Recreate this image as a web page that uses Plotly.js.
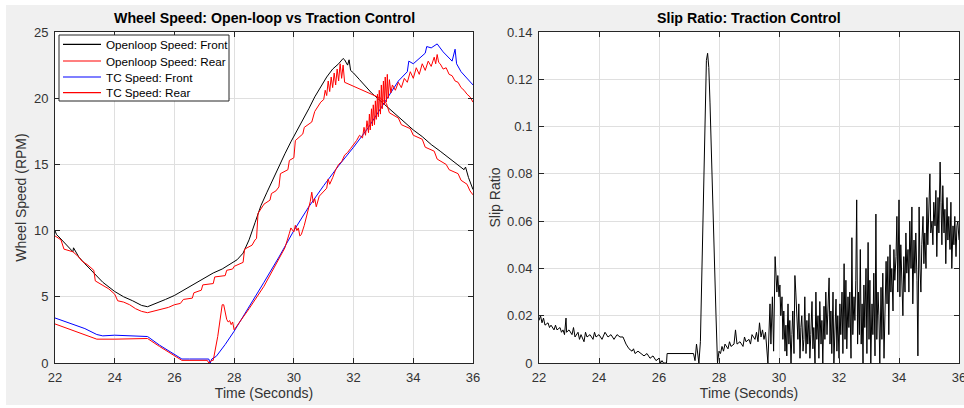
<!DOCTYPE html>
<html>
<head>
<meta charset="utf-8">
<script src="https://cdn.plot.ly/plotly-3.0.1.min.js"></script>
<style>
html,body{margin:0;padding:0;background:#ffffff;}
#bg{position:absolute;left:6px;top:5px;width:958px;height:400px;background:#f0f0f0;}
#chart{position:absolute;left:0;top:0;width:964px;height:408px;}
</style>
</head>
<body>
<div id="bg"></div>
<div id="chart"></div>
<script>
// ---- Open-loop front wheel speed (RPM) ----
var olFrontT = [22.0,22.05,22.1,22.3,22.5,22.6,22.62,22.8,23.0,23.3,
  23.6,24.0,24.3,24.6,24.9,25.1,25.4,25.7,26.0,26.3,
  26.6,27.0,27.3,27.6,27.9,28.1,28.3,28.5,28.7,28.9,
  29.1,29.3,29.5,29.7,29.9,30.1,30.3,30.5,30.7,30.9,
  31.1,31.3,31.5,31.65,31.7,31.8,31.85,31.9,32.0,32.2,
  32.4,32.6,32.8,33.0,33.2,33.4,33.6,33.8,34.0,34.3,
  34.6,34.9,35.2,35.5,35.7,35.75,35.8,35.85,36.0];
var olFrontV = [10.0,9.7,9.6,9.1,8.6,8.4,8.7,8.0,7.5,6.8,
  6.1,5.4,5.0,4.7,4.35,4.25,4.5,4.8,5.1,5.5,
  5.9,6.4,6.8,7.1,7.5,7.8,8.3,9.3,10.6,11.9,
  12.9,13.9,14.9,15.8,16.7,17.5,18.3,19.2,20.1,20.9,
  21.6,22.2,22.6,23.0,22.9,22.5,22.9,22.1,21.9,21.4,
  20.9,20.4,20.0,19.6,19.2,18.8,18.4,18.0,17.6,17.1,
  16.5,16.0,15.5,15.0,14.6,14.8,14.4,14.0,13.1];

// ---- Open-loop rear wheel speed (RPM) ----
var olRearT = [22.0,22.2,22.3,22.6,22.8,22.9,23.1,23.3,23.35,23.6,
  23.8,24.0,24.1,24.3,24.5,24.7,24.9,25.1,25.3,25.6,
  25.8,26.0,26.2,26.3,26.6,26.65,26.9,26.95,27.3,27.35,
  27.7,27.75,27.95,28.0,28.3,28.35,28.6,28.7,28.75,28.8,
  29.0,29.2,29.25,29.4,29.5,29.55,29.8,29.85,30.0,30.05,
  30.3,30.35,30.6,30.7,30.9,31.0,31.05,31.1,31.15,31.2,
  31.25,31.3,31.35,31.4,31.45,31.5,31.55,31.6,31.65,31.7,
  31.8,32.0,32.3,32.6,32.9,33.1,33.2,33.5,33.6,33.9,
  34.0,34.3,34.4,34.7,34.8,35.1,35.2,35.5,35.6,35.8,
  35.9,36.0];
var olRearV = [9.6,9.3,8.6,8.4,8.0,7.7,7.4,7.0,6.2,5.9,
  5.6,5.2,4.7,4.6,4.4,4.1,3.9,3.8,3.9,4.1,
  4.2,4.4,4.5,4.8,4.9,5.3,5.5,5.9,6.0,6.5,
  6.6,7.0,7.1,7.3,7.6,8.6,8.9,9.3,9.4,11.3,
  12.0,12.3,12.8,13.0,13.3,14.3,14.6,15.3,15.5,16.8,
  17.3,17.8,18.2,19.0,19.7,19.9,20.6,20.2,21.3,20.5,
  21.6,20.8,21.9,21.0,22.2,21.3,22.6,21.5,22.5,21.2,
  21.1,20.9,20.6,20.3,20.0,19.6,18.9,18.5,18.0,17.7,
  17.2,16.9,16.3,16.0,15.4,15.0,14.6,14.3,13.8,13.5,
  13.0,12.7];

// ---- Traction-control front wheel speed (RPM) ----
var tcFrontT = [22.0,22.5,23.0,23.4,23.6,24.0,24.5,25.0,25.1,25.5,
  26.0,26.25,26.5,27.0,27.15,27.2,27.25,27.4,27.7,28.0,
  28.5,29.0,29.5,30.0,30.5,31.0,31.5,32.0,32.5,33.0,
  33.5,33.8,33.85,34.0,34.3,34.4,34.45,34.6,34.8,34.9,
  35.0,35.3,35.4,35.45,35.6,36.0];
var tcFrontV = [3.4,3.0,2.6,2.15,2.05,2.1,2.05,2.0,2.0,1.35,
  0.65,0.3,0.3,0.3,0.3,0.0,0.3,0.5,1.4,2.4,
  4.2,6.1,8.0,10.0,11.8,13.4,14.9,16.3,17.8,19.6,
  21.3,22.0,22.8,22.6,23.2,23.4,23.9,23.8,24.1,23.8,
  23.5,22.8,23.7,22.6,22.0,21.0];

// ---- Traction-control rear wheel speed (RPM) ----
var tcRearT = [22.0,22.5,23.0,23.4,24.0,24.5,25.0,25.1,25.5,26.0,
  26.25,27.1,27.15,27.25,27.3,27.45,27.6,27.65,27.75,27.8,
  27.85,27.9,27.95,28.0,28.5,29.0,29.5,29.7,29.85,29.9,
  30.0,30.05,30.1,30.15,30.2,30.25,30.35,30.45,30.55,30.6,
  30.65,30.7,30.75,30.85,31.0,31.1,31.15,31.2,31.3,31.4,
  31.5,31.6,31.7,31.8,31.9,32.0,32.1,32.2,32.3,32.35,
  32.4,32.45,32.5,32.53,32.56,32.6,32.63,32.66,32.7,32.73,
  32.76,32.8,32.83,32.86,32.9,32.93,32.96,33.0,33.03,33.06,
  33.1,33.13,33.16,33.2,33.25,33.3,33.4,33.5,33.6,33.7,
  33.8,33.9,34.0,34.1,34.2,34.3,34.4,34.5,34.6,34.7,
  34.75,34.8,34.85,34.9,35.0,35.1,35.2,35.3,35.4,35.5,
  35.6,35.7,35.8,35.9,36.0];
var tcRearV = [2.95,2.55,2.15,1.8,1.8,1.8,1.85,1.85,1.25,0.55,
  0.2,0.2,0.0,0.2,0.2,2.0,4.4,4.4,3.3,3.1,
  3.2,2.9,3.1,2.5,4.1,5.8,7.8,8.7,9.8,10.2,
  9.9,10.4,10.0,10.2,9.6,9.7,10.4,11.3,12.2,12.9,
  12.1,12.4,11.8,12.6,13.0,13.2,13.9,13.5,14.0,14.6,
  15.0,15.2,15.7,15.9,16.2,16.5,16.8,17.2,17.0,17.8,
  17.2,18.3,17.4,18.8,17.6,19.2,17.9,19.5,18.0,19.8,
  18.4,20.3,18.6,20.6,18.8,21.0,19.2,21.3,19.5,21.6,
  19.7,21.8,20.0,21.4,20.4,21.0,20.6,21.2,20.8,21.5,
  21.2,22.0,21.5,22.3,21.8,22.6,22.1,22.8,22.4,23.1,
  22.6,23.3,22.7,22.6,22.2,22.3,21.8,21.7,21.3,21.2,
  20.8,20.6,20.3,20.1,19.7];

// ---- Slip ratio under traction control ----
var slipT = [22.0,22.05,22.1,22.15,22.2,22.3,22.35,22.4,22.5,22.55,
  22.6,22.7,22.75,22.8,22.85,22.9,22.92,23.0,23.1,23.15,
  23.2,23.3,23.35,23.4,23.5,23.55,23.6,23.7,23.8,23.85,
  23.9,24.0,24.1,24.2,24.3,24.4,24.5,24.6,24.7,24.8,
  24.9,25.0,25.1,25.15,25.2,25.3,25.4,25.5,25.6,25.7,
  25.8,25.9,26.0,26.05,26.1,26.15,26.25,26.27,27.15,27.2,
  27.25,27.3,27.33,27.38,27.45,27.5,27.55,27.58,27.62,27.66,
  27.7,27.75,27.8,27.85,27.9,27.95,28.0,28.05,28.1,28.15,
  28.2,28.3,28.35,28.4,28.5,28.55,28.6,28.7,28.8,28.85,
  28.9,29.0,29.05,29.1,29.2,29.25,29.3,29.35,29.4,29.45,
  29.5,29.55,29.6,29.63,29.7,29.73,29.78,29.82,29.87,29.9,
  29.93,29.96,30.0,30.03,30.06,30.1,30.13,30.16,30.2,30.23,
  30.26,30.3,30.33,30.36,30.4,30.43,30.46,30.5,30.53,30.56,
  30.6,30.63,30.66,30.7,30.73,30.76,30.8,30.83,30.86,30.9,
  30.93,30.96,31.0,31.03,31.06,31.1,31.13,31.16,31.2,31.23,
  31.26,31.3,31.33,31.36,31.4,31.43,31.46,31.5,31.53,31.56,
  31.6,31.63,31.67,31.7,31.73,31.76,31.8,31.83,31.86,31.9,
  31.93,31.96,32.0,32.03,32.06,32.1,32.13,32.17,32.2,32.23,
  32.26,32.3,32.33,32.36,32.4,32.43,32.46,32.5,32.53,32.56,
  32.59,32.62,32.65,32.68,32.71,32.74,32.77,32.8,32.83,32.86,
  32.9,32.93,32.97,33.0,33.03,33.06,33.1,33.13,33.16,33.2,
  33.23,33.26,33.3,33.33,33.36,33.4,33.43,33.46,33.5,33.53,
  33.57,33.6,33.63,33.66,33.7,33.73,33.76,33.8,33.83,33.86,
  33.9,33.93,33.96,34.0,34.03,34.06,34.1,34.13,34.16,34.2,
  34.23,34.26,34.3,34.33,34.36,34.4,34.43,34.46,34.5,34.53,
  34.56,34.6,34.63,34.67,34.7,34.73,34.76,34.8,34.83,34.86,
  34.9,34.93,34.96,35.0,35.03,35.06,35.1,35.13,35.16,35.2,
  35.23,35.26,35.3,35.33,35.37,35.4,35.43,35.46,35.5,35.53,
  35.56,35.6,35.63,35.66,35.7,35.73,35.76,35.8,35.83,35.86,
  35.9,35.93,35.96,36.0];
var slipV = [0.018,0.020,0.017,0.019,0.016,0.017,0.015,0.016,0.014,0.016,
  0.014,0.015,0.013,0.014,0.012,0.019,0.013,0.014,0.012,0.015,
  0.011,0.013,0.010,0.012,0.009,0.013,0.011,0.012,0.010,0.013,
  0.011,0.012,0.010,0.013,0.011,0.012,0.010,0.012,0.011,0.011,
  0.008,0.006,0.005,0.006,0.004,0.005,0.004,0.003,0.004,0.002,
  0.003,0.001,0.002,0.000,0.001,0.000,0.000,0.004,0.004,0.001,
  0.008,0.002,0.000,0.009,0.050,0.090,0.114,0.128,0.131,0.125,
  0.110,0.085,0.070,0.045,0.020,0.000,0.005,0.004,0.007,0.005,
  0.008,0.006,0.009,0.007,0.008,0.014,0.008,0.009,0.007,0.011,
  0.009,0.010,0.008,0.012,0.010,0.013,0.009,0.017,0.011,0.014,
  0.010,0.013,0.006,0.000,0.025,0.008,0.028,0.005,0.045,0.038,
  0.030,0.037,0.028,0.033,0.020,0.028,0.010,0.022,0.005,0.016,
  0.003,0.025,0.008,0.018,0.000,0.012,0.022,0.004,0.037,0.030,
  0.018,0.010,0.025,0.002,0.015,0.020,0.005,0.010,0.028,0.004,
  0.018,0.008,0.021,0.002,0.012,0.026,0.006,0.015,0.000,0.030,
  0.010,0.020,0.002,0.026,0.008,0.018,0.000,0.024,0.010,0.030,
  0.012,0.022,0.036,0.008,0.022,0.004,0.030,0.000,0.016,0.027,
  0.005,0.020,0.002,0.025,0.012,0.030,0.004,0.042,0.010,0.035,
  0.006,0.028,0.015,0.030,0.002,0.053,0.012,0.028,0.018,0.035,
  0.069,0.008,0.030,0.012,0.048,0.008,0.025,0.000,0.033,0.015,
  0.040,0.004,0.051,0.010,0.035,0.000,0.025,0.012,0.038,0.003,
  0.063,0.010,0.030,0.020,0.000,0.032,0.010,0.038,0.002,0.020,
  0.043,0.025,0.045,0.012,0.050,0.030,0.040,0.022,0.048,0.035,
  0.045,0.062,0.030,0.069,0.028,0.050,0.035,0.020,0.045,0.030,
  0.055,0.038,0.048,0.030,0.060,0.040,0.066,0.025,0.052,0.038,
  0.055,0.035,0.003,0.066,0.040,0.030,0.050,0.062,0.042,0.055,
  0.040,0.070,0.050,0.073,0.080,0.055,0.060,0.050,0.068,0.058,
  0.073,0.045,0.070,0.055,0.085,0.068,0.050,0.075,0.055,0.065,
  0.042,0.070,0.052,0.062,0.048,0.068,0.040,0.058,0.050,0.062,
  0.045,0.058,0.060,0.052];

// ---- Labels and ticks ----
var seriesNames = ['Openloop Speed: Front','Openloop Speed: Rear','TC Speed: Front','TC Speed: Rear'];
var seriesColors = ['#000000','#ff0000','#0000ff','#ff0000'];
var timeTicks = [22,24,26,28,30,32,34,36];
var speedTicks = [0,5,10,15,20,25];
var slipTicks = [0,0.02,0.04,0.06,0.08,0.1,0.12,0.14];
var slipTickText = ['0','0.02','0.04','0.06','0.08','0.1','0.12','0.14'];
var leftTitle = 'Wheel Speed: Open-loop vs Traction Control';
var rightTitle = 'Slip Ratio: Traction Control';

var W = 964, H = 408;
var FONT = 'Liberation Sans, Arial, Helvetica, sans-serif';
var axisColor = '#262626';
var gridColor = '#dfdfdf';
var labelColor = '#333333';

function ln(color){ return {color: color, width: 1}; }
function px(x){ return x / W; }
function py(y){ return 1 - y / H; }

var traces = [
  {x: olFrontT, y: olFrontV, type: 'scatter', mode: 'lines', name: seriesNames[0], line: ln(seriesColors[0]), xaxis: 'x', yaxis: 'y'},
  {x: olRearT, y: olRearV, type: 'scatter', mode: 'lines', name: seriesNames[1], line: ln(seriesColors[1]), xaxis: 'x', yaxis: 'y'},
  {x: tcFrontT, y: tcFrontV, type: 'scatter', mode: 'lines', name: seriesNames[2], line: ln(seriesColors[2]), xaxis: 'x', yaxis: 'y'},
  {x: tcRearT, y: tcRearV, type: 'scatter', mode: 'lines', name: seriesNames[3], line: ln(seriesColors[3]), xaxis: 'x', yaxis: 'y'},
  {x: slipT, y: slipV, type: 'scatter', mode: 'lines', name: 'Slip Ratio', line: ln('#000000'), xaxis: 'x2', yaxis: 'y2'}
];

function axisBase(){
  return {
    showline: true, linecolor: axisColor, linewidth: 1, mirror: 'ticks',
    ticks: 'inside', ticklen: 5, tickcolor: axisColor, tickwidth: 1,
    showgrid: true, gridcolor: gridColor, gridwidth: 1,
    zeroline: false, fixedrange: true, ticklabeloverflow: 'allow',
    tickfont: {family: FONT, size: 13, color: labelColor}
  };
}
function titleFont(){ return {family: FONT, size: 14, color: labelColor}; }

var yDom = [1 - 363/H, 1 - 32/H];

var xa = axisBase(); xa.domain = [px(55), px(473)]; xa.range = [22,36]; xa.tickvals = timeTicks; xa.anchor = 'y';
xa.ticklabelstandoff = 2;
xa.title = {text: 'Time (Seconds)', font: titleFont(), standoff: 2};
var ya = axisBase(); ya.domain = yDom; ya.range = [0,25]; ya.tickvals = speedTicks; ya.anchor = 'x';
ya.ticklabelstandoff = 3;
ya.title = {text: 'Wheel Speed (RPM)', font: titleFont(), standoff: 4};

var xa2 = axisBase(); xa2.domain = [px(539), px(959)]; xa2.range = [22,36]; xa2.tickvals = timeTicks; xa2.anchor = 'y2';
xa2.ticklabelstandoff = 2;
xa2.title = {text: 'Time (Seconds)', font: titleFont(), standoff: 2};
var ya2 = axisBase(); ya2.domain = yDom; ya2.range = [0,0.14]; ya2.tickvals = slipTicks; ya2.ticktext = slipTickText; ya2.anchor = 'x2';
ya2.ticklabelstandoff = 3;
ya2.title = {text: 'Slip Ratio', font: titleFont(), standoff: 3};

// custom legend box (MATLAB-style compact legend)
var legendBox = {x0: 59, x1: 229, y0: 35, y1: 101};
var legendRowsY = [44.3, 61, 77, 92.7];
var shapes = [{type: 'rect', xref: 'paper', yref: 'paper', x0: px(legendBox.x0), x1: px(legendBox.x1), y0: py(legendBox.y1), y1: py(legendBox.y0),
  fillcolor: '#ffffff', line: {color: '#262626', width: 1}, layer: 'above'}];
var annotations = [
  {text: '<b>' + leftTitle + '</b>', xref: 'paper', yref: 'paper', x: px(264), y: py(18), xanchor: 'center', yanchor: 'middle', showarrow: false, font: {family: FONT, size: 14.2, color: '#000000'}},
  {text: '<b>' + rightTitle + '</b>', xref: 'paper', yref: 'paper', x: px(749), y: py(18), xanchor: 'center', yanchor: 'middle', showarrow: false, font: {family: FONT, size: 14.2, color: '#000000'}}
];
seriesNames.forEach(function(name, i){
  var yy = legendRowsY[i];
  shapes.push({type: 'line', xref: 'paper', yref: 'paper', x0: px(63), x1: px(101), y0: py(yy), y1: py(yy), line: {color: seriesColors[i], width: 1.2}, layer: 'above'});
  annotations.push({text: name, xref: 'paper', yref: 'paper', x: px(104), y: py(yy), xanchor: 'left', yanchor: 'middle', showarrow: false,
    font: {family: FONT, size: 11.7, color: '#000000'}});
});

var layout = {
  width: W, height: H,
  margin: {l: 0, r: 0, t: 0, b: 0, pad: 0},
  paper_bgcolor: 'rgba(0,0,0,0)',
  plot_bgcolor: '#ffffff',
  showlegend: false,
  xaxis: xa, yaxis: ya, xaxis2: xa2, yaxis2: ya2,
  shapes: shapes,
  annotations: annotations
};

Plotly.newPlot('chart', traces, layout, {displayModeBar: false, staticPlot: true});
</script>
</body>
</html>
